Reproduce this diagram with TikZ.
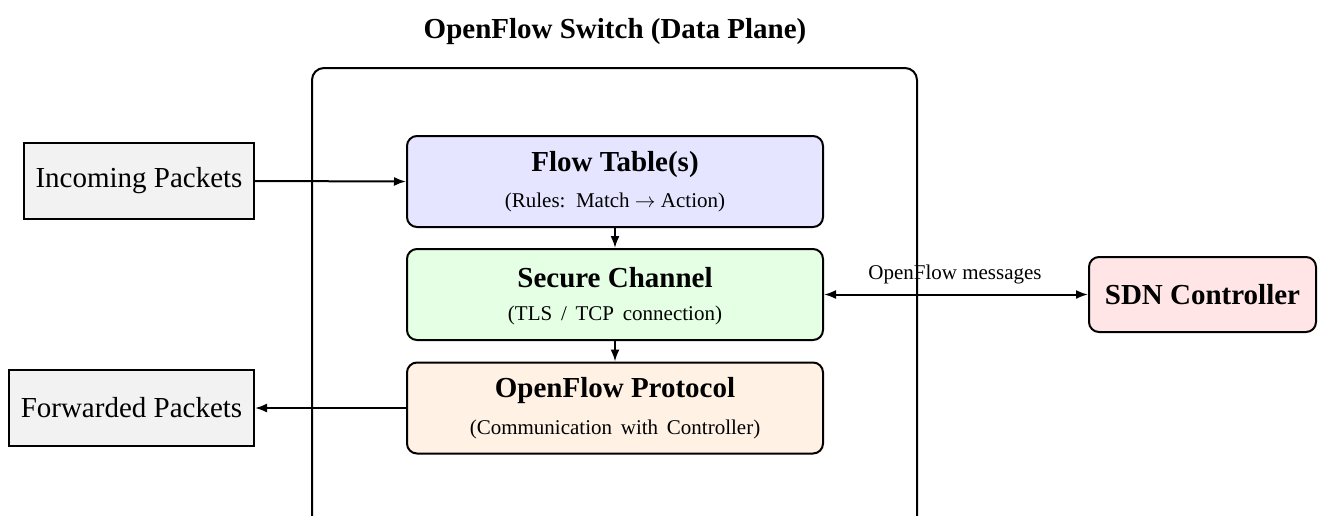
\documentclass[tikz,border=0pt]{standalone}
\usepackage{fontspec}
\setmainfont{Liberation Serif}
\usetikzlibrary{arrows.meta}
\begin{document}
\begin{tikzpicture}[x=1pt,y=-1pt,
  big/.style={font=\fontsize{29}{34}\selectfont},
  bigb/.style={font=\fontsize{29}{34}\selectfont\bfseries},
  small/.style={font=\fontsize{21}{25}\selectfont},
  comp/.style={draw, line width=2pt, rounded corners=10pt, minimum width=416pt, minimum height=91pt, inner sep=0pt},
  ext/.style={draw, line width=2pt, fill=gray!10, minimum height=76pt, inner sep=0pt},
  conn/.style={line width=2pt, -{Latex[length=12pt,width=9pt]}},
  dconn/.style={line width=2pt, {Latex[length=12pt,width=9pt]}-{Latex[length=12pt,width=9pt]}}
]
\useasboundingbox (0,0) rectangle (1322,515);
\clip (0,0) rectangle (1322,515);

\node[bigb] (title) at (615,32) {OpenFlow Switch (Data Plane)};

\node[draw, line width=2pt, rounded corners=12pt, minimum width=605pt, minimum height=500pt, inner sep=0pt] (outer) at (614.5,318) {};

\node[comp, fill=blue!10] (ft) at (615,181.5) {};
\node[bigb] (ftt) at (615,165) {Flow Table(s)};
\node[small] (fts) at (615,202) {(Rules:\ \ Match $\rightarrow$ Action)};

\node[comp, fill=green!10] (sc) at (615,294.5) {};
\node[bigb] (sct) at (615,278) {Secure Channel};
\node[small] (scs) at (615,315) {(TLS \,/\, TCP\, connection)};

\node[comp, fill=orange!10] (op) at (615,408) {};
\node[bigb] (opt) at (615,391) {OpenFlow Protocol};
\node[small] (ops) at (615,429) {(Communication\, with\, Controller)};

\node[ext, minimum width=230pt, big] (in) at (139,181) {Incoming Packets};
\node[ext, minimum width=245pt, big] (fw) at (131.5,408) {Forwarded Packets};

\node[draw, line width=2pt, rounded corners=10pt, fill=red!10, minimum width=227pt, minimum height=75pt, inner sep=0pt, bigb] (sdn) at (1202.5,294.5) {SDN Controller};

\draw[conn] (in.east) -- (ft.west);
\draw[conn] (ft.south) -- (sc.north);
\draw[conn] (sc.south) -- (op.north);
\draw[conn] (op.west) -- (fw.east);
\draw[dconn] (sc.east) -- (sdn.west);
\node[small] (msg) at (955,274) {OpenFlow messages};
\end{tikzpicture}
\end{document}
